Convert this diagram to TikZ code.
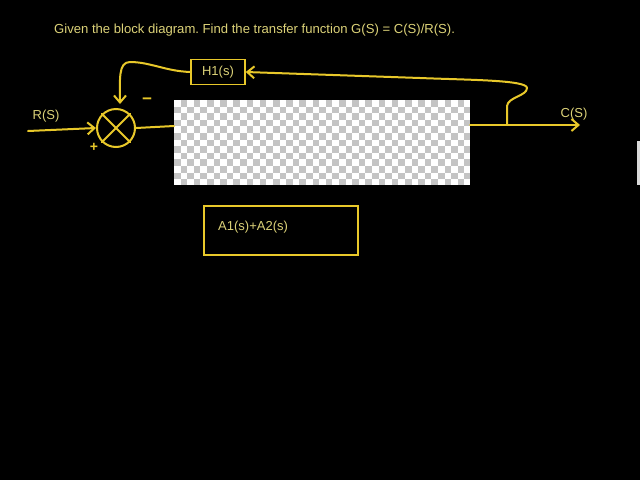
\documentclass[tikz,border=0pt]{standalone}
\usepackage{fontspec}
\setmainfont{Liberation Sans}
\usetikzlibrary{arrows.meta}
\definecolor{pen}{HTML}{E8C82A}
\definecolor{txt}{HTML}{DCD278}
\definecolor{chk}{HTML}{C4C4C4}
\frenchspacing
\tikzset{
  ln/.style={draw=pen, line width=2pt, line cap=round, line join=round},
  arr/.style={ln, -{Straight Barb[length=7pt,width=12pt,line width=2pt]}},
  lbl/.style={text=txt, font=\fontsize{13}{15}\selectfont, inner sep=0pt},
  blk/.style={draw=pen, line width=1.6pt, inner sep=0pt}
}
\begin{document}
\begin{tikzpicture}[x=1pt,y=-1pt]
\fill[black] (0,0) rectangle (640,480);
\useasboundingbox (0,0) rectangle (640,480);
% title
\node[lbl, anchor=base west, font=\fontsize{13.1}{15}\selectfont] (title) at (54,33) {Given the block diagram. Find the transfer function G(S) = C(S)/R(S).};
% checkerboard (pasted transparent image)
\fill[white] (174,100) rectangle (470,185);
\foreach \i in {0,...,44}{
  \foreach \j in {0,...,12}{
    \pgfmathtruncatemacro{\chkp}{mod(\i+\j,2)}
    \ifnum\chkp=1
      \fill[chk] ({174+\i*6.6},{100+\j*6.6}) rectangle ({min(470,174+(\i+1)*6.6)},{min(185,100+(\j+1)*6.6)});
    \fi
  }
}
\coordinate (gin) at (174,126);
\coordinate (gout) at (470,125);
% summing junction
\node[draw=pen, line width=2pt, circle, minimum size=38pt, inner sep=0pt] (sum) at (116,128) {};
\draw[ln] (sum.north east) -- (sum.south west);
\draw[ln] (sum.north west) -- (sum.south east);
% H1 block
\node[blk, minimum width=54pt, minimum height=25pt] (h1) at (218,72) {};
\node[lbl] (h1t) at (218,72) {H1(s)};
% A1+A2 block
\node[blk, minimum width=154pt, minimum height=49pt] (a) at (281,230.5) {};
\node[lbl, anchor=west] (at) at (218,227) {A1(s)+A2(s)};
% labels
\node[lbl] (rs) at (46,116) {R(S)};
\node[lbl] (cs) at (574,114) {C(S)};
\node[text=pen, font=\bfseries\fontsize{14}{14}\selectfont, inner sep=0pt] (plus) at (94,147) {+};
\node[text=pen, font=\bfseries\fontsize{17}{17}\selectfont, inner sep=0pt] (minus) at (147,101) {−};
% input
\coordinate (rin) at (28,131);
\draw[arr] (rin) -- (sum.west);
% sum to block
\draw[ln] (sum.east) -- (gin);
% output
\coordinate (cout) at (580,125);
\draw[arr] (gout) -- (cout);
% feedback
\coordinate (br) at (507,125);
\draw[arr] (br) -- (507,106) .. controls (508,97) and (527,96) .. (527,88)
  .. controls (527,80) and (470,80) .. (420,78) -- (h1.east);
\draw[arr] (h1.west) .. controls (165,71) and (150,62) .. (130,62)
  .. controls (118,62) and (120,80) .. (120,104);
% right edge artifact
\fill[white!85!black] (637,141) rectangle (640,185);
\end{tikzpicture}
\end{document}
